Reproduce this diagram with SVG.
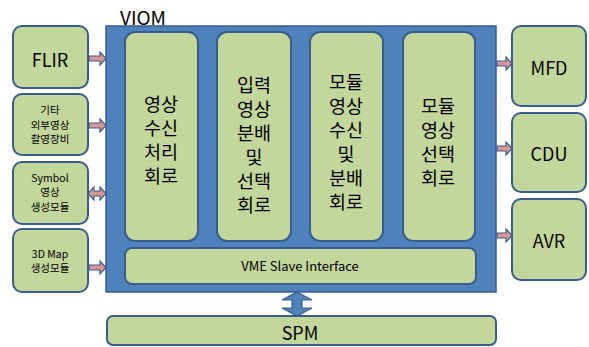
<svg xmlns="http://www.w3.org/2000/svg" width="589" height="347" viewBox="0 0 589 347">
<style>
.box{fill:#c3d69b;stroke:#385d8a;stroke-width:2}
.viom{fill:#4f81bd;stroke:#385d8a;stroke-width:1.5}
.arr{fill:#d99594;stroke:#385d8a;stroke-width:1.2}
.varr{fill:#4f81bd;stroke:#385d8a;stroke-width:1.2}
text{font-family:"Noto Sans CJK KR","Noto Sans",sans-serif;fill:#000;text-anchor:middle}
.big{font-size:18.5px}
.lbl{font-size:18px}
.sm{font-size:10.5px}
.mid{font-size:13px}
</style>
<rect width="589" height="347" fill="#fff"/>
<g id="viom">
<rect class="viom" x="106" y="26" width="390" height="266"/>
<text x="143" y="25" font-size="19">VIOM</text>
</g>
<g id="col1">
<rect class="box" x="125" y="32" width="73" height="209" rx="10"/>
<text class="big" x="161" y="111">영상</text>
<text class="big" x="161" y="135">수신</text>
<text class="big" x="161" y="159">처리</text>
<text class="big" x="161" y="183">회로</text>
</g>
<g id="col2">
<rect class="box" x="217" y="32" width="74" height="209" rx="10"/>
<text class="big" x="254" y="91.5">입력</text>
<text class="big" x="254" y="115.5">영상</text>
<text class="big" x="254" y="139.5">분배</text>
<text class="big" x="254" y="163.5">및</text>
<text class="big" x="254" y="187.5">선택</text>
<text class="big" x="254" y="211.5">회로</text>
</g>
<g id="col3">
<rect class="box" x="310" y="32" width="73" height="209" rx="10"/>
<text class="big" x="346" y="89">모듈</text>
<text class="big" x="346" y="113">영상</text>
<text class="big" x="346" y="137">수신</text>
<text class="big" x="346" y="161">및</text>
<text class="big" x="346" y="185">분배</text>
<text class="big" x="346" y="209">회로</text>
</g>
<g id="col4">
<rect class="box" x="403" y="32" width="72" height="209" rx="10"/>
<text class="big" x="438" y="113">모듈</text>
<text class="big" x="438" y="137">영상</text>
<text class="big" x="438" y="161">선택</text>
<text class="big" x="438" y="185">회로</text>
</g>
<g id="vme">
<rect class="box" x="125" y="248" width="351" height="36" rx="7"/>
<text class="mid" x="300" y="271">VME Slave Interface</text>
</g>
<g id="spm">
<rect class="box" x="107" y="316" width="389" height="29" rx="6"/>
<text class="lbl" x="300" y="340">SPM</text>
</g>
<g id="flir">
<rect class="box" x="13" y="26" width="75" height="62" rx="9"/>
<text class="lbl" x="50" y="67">FLIR</text>
</g>
<g id="ext">
<rect class="box" x="13" y="94" width="75" height="61" rx="9"/>
<text class="sm" x="50" y="114">기타</text>
<text class="sm" x="50" y="128.5">외부영상</text>
<text class="sm" x="50" y="143">촬영장비</text>
</g>
<g id="symbol">
<rect class="box" x="13" y="162" width="75" height="62" rx="9"/>
<text class="sm" x="50" y="182">Symbol</text>
<text class="sm" x="50" y="196">영상</text>
<text class="sm" x="50" y="210.5">생성모듈</text>
</g>
<g id="map3d">
<rect class="box" x="13" y="229" width="75" height="63" rx="9"/>
<text class="sm" x="50" y="257.5">3D Map</text>
<text class="sm" x="50" y="272">생성모듈</text>
</g>
<g id="mfd">
<rect class="box" x="512" y="26" width="74" height="80" rx="9"/>
<text class="lbl" x="549" y="75">MFD</text>
</g>
<g id="cdu">
<rect class="box" x="512" y="113" width="74" height="79" rx="9"/>
<text class="lbl" x="549" y="161">CDU</text>
</g>
<g id="avr">
<rect class="box" x="512" y="199" width="74" height="81" rx="9"/>
<text class="lbl" x="549" y="248">AVR</text>
</g>
<g id="connectors">
<path class="arr" d="M89,56 H100 V52 L106,58.5 L100,65 V61 H89 Z"/>
<path class="arr" d="M89,123 H100 V119 L106,125.5 L100,132 V128 H89 Z"/>
<path class="arr" d="M94,191 H100 V187 L106,193.5 L100,200 V196 H94 V200 L88,193.5 L94,187 Z"/>
<path class="arr" d="M89,265 H100 V261 L106,267.5 L100,274 V270 H89 Z"/>
<path class="arr" d="M497,61 H506 V57 L512,63.5 L506,70 V66 H497 Z"/>
<path class="arr" d="M497,146 H506 V142 L512,148.5 L506,155 V151 H497 Z"/>
<path class="arr" d="M497,233 H506 V229 L512,235.5 L506,242 V238 H497 Z"/>
<path class="varr" d="M297,292 L312,300 H302 V308 H312 L297,316 L282,308 H292 V300 H282 Z"/>
</g>
</svg>
